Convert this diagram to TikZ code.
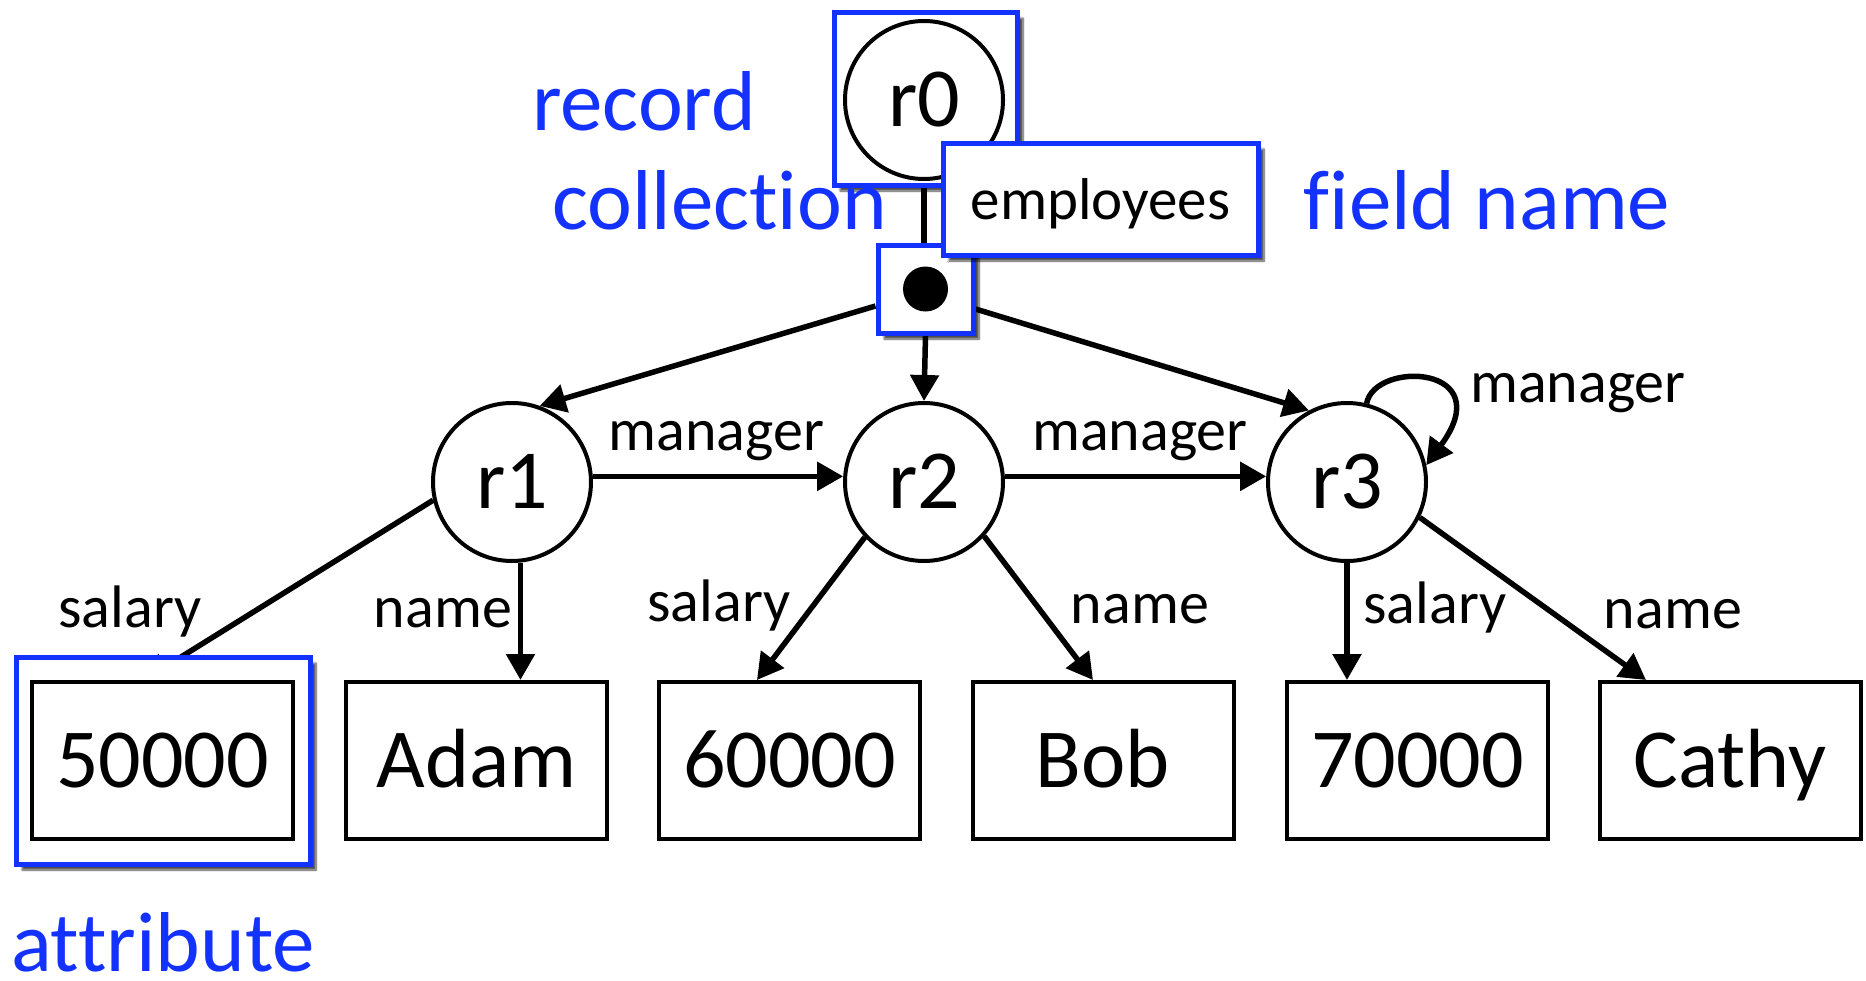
\documentclass[tikz,border=0pt]{standalone}
\usepackage{fontspec}
\setmainfont{Carlito}[Ligatures={NoCommon}]
\usetikzlibrary{arrows.meta,shadows.blur}
\definecolor{hlblue}{RGB}{20,50,255}
\pgfdeclarelayer{bg}
\pgfsetlayers{bg,main}
\begin{document}
\begin{tikzpicture}[x=1pt,y=-1pt,
  big/.style={font=\fontsize{84}{90}\selectfont, text height=53pt, text depth=0pt, inner sep=0pt},
  rec/.style={big, circle, draw, line width=4pt, minimum size=158pt, fill=white},
  val/.style={big, rectangle, draw, line width=4pt, minimum width=261pt, minimum height=157pt, fill=white},
  hl/.style={rectangle, draw=hlblue, line width=5pt, fill=white, inner sep=0pt,
    blur shadow={shadow xshift=6pt, shadow yshift=-6pt, shadow blur steps=8, shadow opacity=70}},
  lbl/.style={font=\fontsize{60}{66}\selectfont, inner sep=0pt, anchor=base},
  note/.style={font=\fontsize{85}{90}\selectfont, text=hlblue, inner sep=0pt, anchor=base},
  conn/.style={line width=5.5pt, -{Triangle[length=26pt,width=28pt]}},
  plainconn/.style={line width=5.5pt},
]
\useasboundingbox (0,0) rectangle (1866,980);

% record r0 with its highlight box
\node[hl, minimum width=183pt, minimum height=173pt] (r0box) at (925.5,98.5) {};
\node[rec] (r0) at (924,100) {r0};

% collection bullet
\node[hl, minimum width=95pt, minimum height=88pt] (bul) at (925.5,289) {};
\node[circle, fill=black, minimum size=45pt, inner sep=0pt] (dot) at (bul.center) {};

% field name box
\node[hl, minimum width=315pt, minimum height=112pt, font=\fontsize{59}{64}\selectfont,
      text height=40pt, text depth=0pt] (emp) at (1100.5,199) {employees};

% records
\node[rec] (r1) at (512,482) {r1};
\node[rec] (r2) at (924,482) {r2};
\node[rec] (r3) at (1347,482) {r3};

% attribute values
\node[hl, minimum width=294pt, minimum height=207pt] (attrbox) at (163,760.5) {};
\node[val] (n50) at (162.5,760.5) {50000};
\node[val] (adam) at (476.5,760.5) {Adam};
\node[val] (n60) at (789.5,760.5) {60000};
\node[val] (bob) at (1103,760.5) {Bob};
\node[val] (n70) at (1417.5,760.5) {70000};
\node[val] (cathy) at (1730,760.5) {Cathy};

% connectors (behind the nodes)
\begin{pgfonlayer}{bg}
\draw[plainconn] (r0.south) -- (r0.south |- bul.north);
\draw[conn] ([yshift=-17pt]bul.west) -- (r1.70);
\draw[conn] (bul.south) -- (r2.north);
\draw[conn] ([yshift=-20pt]bul.east) -- (r3.118);
\draw[conn] (r1.4) -- (r2.176);
\draw[conn] (r2.4) -- (r3.176);
\draw[conn] (r3.76) .. controls (1375,360) and (1500,365) .. (r3.12);
\draw[conn] (r1.193) -- ([xshift=-18.5pt]n50.north);
\draw[conn] (r1.-84) -- (r1.-84 |- adam.north);
\draw[conn] (r2.223) -- ([xshift=-32.5pt]n60.north);
\draw[conn] (r2.-42) -- ([xshift=-10pt]bob.north);
\draw[conn] (r3.south) -- (r3.south |- n70.north);
\draw[conn] (r3.-26) -- ([xshift=-84pt]cathy.north);
\end{pgfonlayer}

% edge labels
\node[lbl] (m12) at (716.5,450) {manager};
\node[lbl] (m23) at (1140,450) {manager};
\node[lbl] (m33) at (1578,402) {manager};
\node[lbl] (s1) at (130,627) {salary};
\node[lbl] (nm1) at (443,627) {name};
\node[lbl] (s2) at (719,621) {salary};
\node[lbl] (nm2) at (1140,623) {name};
\node[lbl] (s3) at (1435,623) {salary};
\node[lbl] (nm3) at (1673,628) {name};

% blue annotations
\node[note] (trecord) at (644,130) {record};
\node[note] (tcoll) at (719.5,229) {collection};
\node[note] (tfield) at (1487,229) {field name};
\node[note] (tattr) at (163,971) {attribute};
\end{tikzpicture}
\end{document}
